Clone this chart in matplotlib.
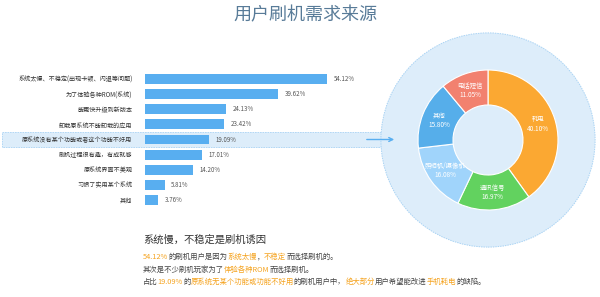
import matplotlib
matplotlib.use("Agg")
import matplotlib.pyplot as plt
import numpy as np
from matplotlib.patches import Rectangle, Circle, FancyArrowPatch
from matplotlib.transforms import blended_transform_factory

plt.rcParams['font.family'] = ['Noto Sans CJK SC', 'DejaVu Sans']

# data
reasons = [
    "系统太慢、不稳定(出现卡顿、闪退等问题)",
    "为了体验各种ROM(系统)",
    "能更快升级到新版本",
    "卸载原系统不能卸载的应用",
    "原系统没有某个功能或者这个功能不好用",
    "刷机过程很有趣，有成就感",
    "原系统界面不美观",
    "习惯了实用某个系统",
    "其他",
]
reason_pct = [54.12, 39.62, 24.13, 23.42, 19.09, 17.01, 14.20, 5.81, 3.76]
highlight_idx = 4

defects = ["耗电", "通讯信号", "照相机/摄像机", "其他", "电话短信"]
defect_pct = [40.10, 16.97, 16.08, 15.80, 11.05]
defect_colors = ["#fba832", "#62d25f", "#a0d4fb", "#56aeea", "#f2816f"]

BAR = "#58aef0"
ORANGE = "#f5a31f"
GRAY = "#444444"

fig = plt.figure(figsize=(6, 2.97), dpi=100)
W, H = 600, 297


def fx(px):
    return px / W


def fy(py):
    return 1 - py / H


# title
fig.text(fx(305), fy(15), "用户刷机需求来源", ha='center', va='center',
         fontsize=13, color='#587b98')

# bar chart
ax = fig.add_axes([fx(145), fy(207.5), fx(240), 136 / H])
ypos = list(range(len(reasons)))
ax.barh(ypos, reason_pct, height=0.66, color=BAR, zorder=3)
ax.set_xlim(0, 240 / (182 / 54.12))
ax.set_ylim(len(reasons) - 0.5, -0.5)
ax.set_yticks(ypos)
ax.set_yticklabels(reasons, fontsize=4.4, color='#333333')
ax.tick_params(axis='y', length=0, pad=9)
ax.set_xticks([])
for s in ax.spines.values():
    s.set_visible(False)
ax.patch.set_alpha(0)
for y, v in zip(ypos, reason_pct):
    ax.text(v + 2, y, f"{v:.2f}%", va='center', ha='left', fontsize=4.4, color='#555555')

# highlight band for the row that leads to the donut
tr = blended_transform_factory(fig.transFigure, ax.transData)
band = Rectangle((fx(2), highlight_idx - 0.5), fx(382) - fx(2), 1.0, transform=tr,
                 facecolor='#ddedfa', edgecolor='#a9d3f4', linestyle=(0, (2, 1)),
                 linewidth=0.6, zorder=0, clip_on=False)
fig.add_artist(band)
ax.set_zorder(2)

# donut
pax = fig.add_axes([fx(380), fy(248), fx(216), 216 / H])
pax.add_patch(Circle((0, 0), 1.53, facecolor='#ddedfa', edgecolor='#a9d3f4',
                     linestyle=(0, (1.5, 1)), linewidth=0.7, zorder=0))
wedges, _ = pax.pie(defect_pct, colors=defect_colors, startangle=90, counterclock=False,
                    radius=1.0, wedgeprops=dict(width=0.5, edgecolor='white', linewidth=0.8))
lim = 108 / 70
pax.set_xlim(-lim, lim)
pax.set_ylim(-lim, lim)
pax.set_aspect('equal')
pax.axis('off')
for w, name, v in zip(wedges, defects, defect_pct):
    ang = np.deg2rad((w.theta1 + w.theta2) / 2)
    r = 0.75
    pax.text(r * np.cos(ang), r * np.sin(ang), f"{name}\n{v:.2f}%", ha='center', va='center',
             fontsize=4.6, color='white', linespacing=1.2)

# arrow into the donut circle
fig.add_artist(FancyArrowPatch(
    (fx(364), fy(139.5)), (fx(397), fy(139.5)), transform=fig.transFigure,
    arrowstyle='->', mutation_scale=7, color=BAR, linewidth=1.0))

# summary text
fig.text(fx(143), fy(240), "系统慢，不稳定是刷机诱因", ha='left', va='center',
         fontsize=7.4, color='#333333')

lines = [
    [("54.12%", ORANGE), ("的刷机用户是因为", GRAY), ("系统太慢", ORANGE), ("，", GRAY),
     ("不稳定", ORANGE), ("而选择刷机的。", GRAY)],
    [("其次是不少刷机玩家为了", GRAY), ("体验各种ROM", ORANGE), ("而选择刷机。", GRAY)],
    [("占比", GRAY), ("19.09%", ORANGE), ("的", GRAY), ("原系统无某个功能或功能不好用", ORANGE),
     ("的刷机用户中，", GRAY), ("绝大部分", ORANGE), ("用户希望能改进", GRAY),
     ("手机耗电", ORANGE), ("的缺陷。", GRAY)],
]
line_y = [257, 269.5, 282]
renderer = fig.canvas.get_renderer()
for parts, py in zip(lines, line_y):
    x = fx(143)
    for t, c in parts:
        txt = fig.text(x, fy(py), t, ha='left', va='center', fontsize=5.3, color=c)
        bb = txt.get_window_extent(renderer=renderer)
        x += bb.width / (W * fig.dpi / 100)

fig.savefig("out.png", dpi=100)
